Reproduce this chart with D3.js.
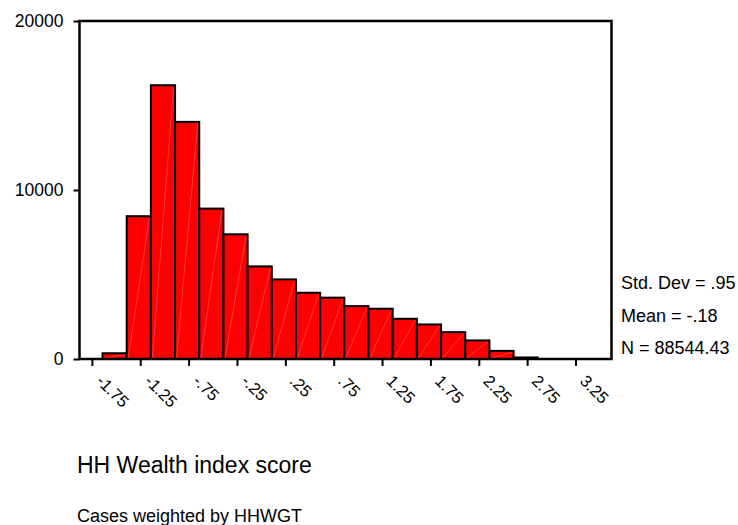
<!DOCTYPE html>
<html>
<head>
<meta charset="utf-8">
<script src="https://cdn.jsdelivr.net/npm/d3@7"></script>
<style>
  html, body { margin: 0; padding: 0; background: #fff; }
  text { font-family: Arial, "Liberation Sans", sans-serif; fill: #000; }
</style>
</head>
<body>
<svg id="chart" width="738" height="525"></svg>
<script>
// ---- data ----
const binEdges = [-1.64, -1.39, -1.14, -0.89, -0.64, -0.39, -0.14, 0.11, 0.36, 0.61,
                  0.86, 1.11, 1.36, 1.61, 1.86, 2.11, 2.36, 2.61, 2.86];
const counts = [340, 8450, 16200, 14030, 8900, 7380, 5480, 4710, 3920, 3630,
                3130, 2975, 2380, 2045, 1590, 1100, 480, 90];
const xTickValues = [-1.75, -1.25, -0.75, -0.25, 0.25, 0.75, 1.25, 1.75, 2.25, 2.75, 3.25];
const xTickLabels = ["-1.75", "-1.25", "-.75", "-.25", ".25", ".75", "1.25", "1.75", "2.25", "2.75", "3.25"];
const yTickValues = [0, 10000, 20000];
const yTickLabels = ["0", "10000", "20000"];
const statsLines = ["Std. Dev = .95", "Mean = -.18", "N = 88544.43"];
const xTitle = "HH Wealth index score";
const caption = "Cases weighted by HHWGT";

// ---- layout ----
const pLeft = 79.5, pRight = 611.5, pTop = 21, pBottom = 359;
const svg = d3.select("#chart");

const x = d3.scaleLinear().domain([-1.878, 3.622]).range([pLeft, pRight]);
const y = d3.scaleLinear().domain([0, 20000]).range([pBottom, pTop]);

// bars
const bars = counts.map((c, i) => ({ x0: binEdges[i], x1: binEdges[i + 1], v: c }));
const g = svg.append("g");
g.selectAll("rect.bar").data(bars).enter().append("rect")
  .attr("class", "bar")
  .attr("x", d => x(d.x0))
  .attr("y", d => y(d.v))
  .attr("width", d => x(d.x1) - x(d.x0))
  .attr("height", d => y(0) - y(d.v))
  .attr("fill", "#ff0000")
  .attr("stroke", "#000")
  .attr("stroke-width", 2);
// faint diagonal seam inside each bar
g.selectAll("line.seam").data(bars.filter(d => y(0) - y(d.v) > 4)).enter().append("line")
  .attr("class", "seam")
  .attr("x1", d => x(d.x0) + 1.5)
  .attr("y1", y(0) - 1)
  .attr("x2", d => x(d.x1) - 1.5)
  .attr("y2", d => y(d.v) + 1.5)
  .attr("stroke", "#ff7070")
  .attr("stroke-width", 0.5);

// frame
svg.append("rect")
  .attr("x", pLeft).attr("y", pTop)
  .attr("width", pRight - pLeft).attr("height", pBottom - pTop)
  .attr("fill", "none").attr("stroke", "#000").attr("stroke-width", 2.5);

// y axis
const yAxis = d3.axisLeft(y).tickValues(yTickValues)
  .tickFormat((d, i) => yTickLabels[i]).tickSize(6).tickPadding(10);
const ya = svg.append("g").attr("transform", `translate(${pLeft},0)`).call(yAxis);
ya.select(".domain").remove();
ya.selectAll(".tick line").attr("stroke", "#000").attr("stroke-width", 2);
ya.selectAll(".tick text").attr("font-size", 17.5).attr("font-family", "Arial, 'Liberation Sans', sans-serif");

// x axis
const xAxis = d3.axisBottom(x).tickValues(xTickValues)
  .tickFormat((d, i) => xTickLabels[i]).tickSize(7);
const xa = svg.append("g").attr("transform", `translate(0,${pBottom})`).call(xAxis);
xa.select(".domain").remove();
xa.selectAll(".tick line").attr("stroke", "#000").attr("stroke-width", 2);
xa.selectAll(".tick text")
  .attr("font-size", 16.5)
  .attr("font-family", "Arial, 'Liberation Sans', sans-serif")
  .attr("text-anchor", "start")
  .attr("dy", null)
  .attr("y", 0)
  .attr("transform", "translate(3,23) rotate(45)");

// stats
const statY = [288.5, 321.5, 354];
svg.selectAll("text.stat").data(statsLines).enter().append("text")
  .attr("class", "stat")
  .attr("x", 621)
  .attr("y", (d, i) => statY[i])
  .attr("font-size", 18)
  .text(d => d);

// titles
svg.append("text").attr("x", 77).attr("y", 473).attr("font-size", 23).text(xTitle);
svg.append("text").attr("x", 77).attr("y", 521.5).attr("font-size", 18).text(caption);
</script>
</body>
</html>
